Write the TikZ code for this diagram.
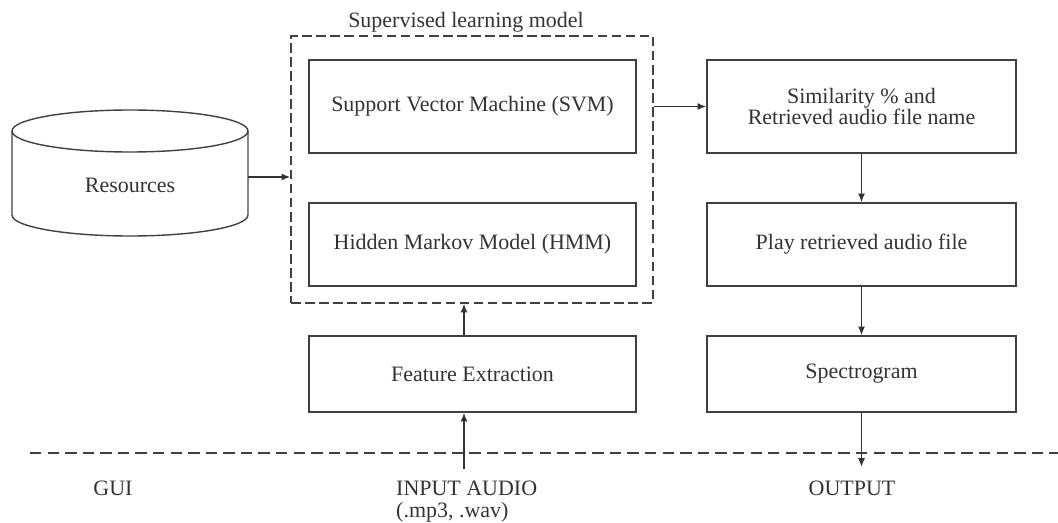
\documentclass[tikz,border=0pt]{standalone}
\usepackage{fontspec}
\setmainfont{Liberation Serif}
\usetikzlibrary{arrows.meta}

\tikzset{
  block/.style={draw=black!75, line width=0.8pt, minimum width=6.54cm, align=center, text=black!80},
  lbl/.style={text=black!80},
  flow/.style={draw=black!80, line width=0.8pt, -{Latex[length=5pt,width=4pt]}},
}

\begin{document}
\begin{tikzpicture}[font=\fontsize{12.5}{12.5}\selectfont]
  \useasboundingbox (0,0) rectangle (21.16,10.44);

  % Supervised learning model
  \node[draw=black!75, line width=0.8pt, dash pattern=on 5.5pt off 2.5pt,
        minimum width=7.24cm, minimum height=5.34cm] (sup) at (9.44,7.05) {};
  \node[lbl]                              (suplbl) at (9.32,10.0) {Supervised learning model};
  \node[block, minimum height=1.86cm]     (svm)    at (9.45,8.31) {Support Vector Machine (SVM)};
  \node[block, minimum height=1.66cm]     (hmm)    at (9.45,5.55) {Hidden Markov Model (HMM)};
  \node[block, minimum height=1.52cm]     (feat)   at (9.45,2.96) {Feature Extraction};

  % Right column
  \node[block, minimum width=6.18cm, minimum height=1.86cm] (sim)  at (17.23,8.31) {Similarity \% and\\Retrieved audio file name};
  \node[block, minimum width=6.18cm, minimum height=1.66cm] (play) at (17.23,5.55) {Play retrieved audio file};
  \node[block, minimum width=6.18cm, minimum height=1.52cm] (spec) at (17.23,2.96) {Spectrogram};

  % Resources
  \draw[black!75, line width=0.8pt] (0.24,7.82) -- (0.24,6.14)
        arc[start angle=180, end angle=360, x radius=2.36, y radius=0.42] -- (4.96,7.82);
  \draw[black!75, line width=0.8pt] (2.6,7.82) ellipse [x radius=2.36, y radius=0.42];
  \node[lbl]    (res)   at (2.6,6.74) {Resources};
  \coordinate   (resR)  at (4.96,6.9);

  % GUI line and labels
  \coordinate (gl) at (0.6,1.38);
  \coordinate (gr) at (21.16,1.38);
  \draw[black!75, line width=0.8pt, dash pattern=on 6.5pt off 3.5pt] (gl) -- (gr);
  \node[lbl]                 (gui)    at (2.26,0.68) {GUI};
  \node[lbl, anchor=west]    (inp)    at (7.8,0.68)  {INPUT AUDIO};
  \node[lbl, anchor=west]    (inpfmt) at (7.8,0.2)   {(.mp3, .wav)};
  \node[lbl]                 (out)    at (17.04,0.68) {OUTPUT};
  \coordinate (inbot)  at (9.28,1.06);
  \coordinate (outtip) at (17.23,1.1);

  % Connectors
  \draw[flow] (resR) -- (resR -| sup.west);
  \draw[flow] (svm.east -| sup.east) -- (sim.west);
  \draw[flow] (sim) -- (play);
  \draw[flow] (play) -- (spec);
  \draw[flow] (spec.south) -- (outtip);
  \draw[flow] (inbot) -- (feat.south -| inbot);
  \draw[flow] (feat.north -| inbot) -- (sup.south -| inbot);
\end{tikzpicture}
\end{document}
